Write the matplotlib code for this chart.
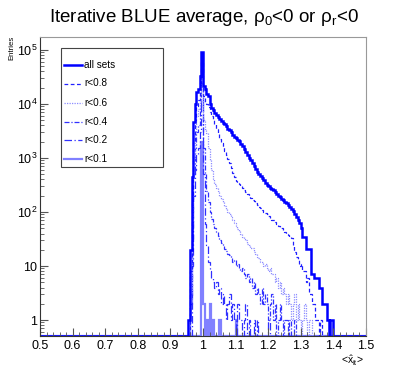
import numpy as np
import matplotlib
matplotlib.use("Agg")
import matplotlib.pyplot as plt
from matplotlib.lines import Line2D
from matplotlib.patches import Rectangle

plt.rcParams['font.family'] = ['Liberation Sans', 'DejaVu Sans']
plt.rcParams['mathtext.fontset'] = 'custom'
plt.rcParams['mathtext.rm'] = 'Liberation Sans'
plt.rcParams['mathtext.it'] = 'Liberation Sans'
plt.rcParams['mathtext.default'] = 'regular'

# histogram binning: 200 bins from 0.5 to 1.5; listed contents start at 0.95
x_min, x_max, n_bins = 0.5, 1.5, 200
data_start = 0.95

all_sets = [0, 1, 20, 450, 4700, 10000, 17000, 19000, 33000, 91000,
            22000, 19000, 15500, 14000, 9800, 8300, 7600, 6900, 6300, 5800,
            5300, 4900, 4500, 4200, 3900, 3500, 3300, 3000, 2700, 2500,
            2350, 2200, 2050, 1850, 1650, 1450, 1300, 1150, 1000, 900,
            800, 700, 620, 540, 500, 470, 420, 390, 350, 320,
            300, 280, 265, 255, 235, 215, 200, 190, 175, 166,
            155, 145, 135, 125, 115, 105, 92, 80, 70, 62,
            50, 35, 35, 21, 21, 21, 7, 7, 6, 6,
            6, 4, 4, 2, 2, 2, 1, 0, 1, 1,
            0, 0]

r08 = [0, 0, 8, 150, 2000, 5000, 9000, 12000, 25000, 60000,
       14000, 11000, 10000, 8900, 7000, 6000, 5000, 4200, 3500, 2800,
       2240, 1900, 1600, 1350, 1120, 950, 800, 650, 525, 450,
       380, 350, 330, 300, 280, 260, 230, 215, 200, 180,
       170, 160, 148, 135, 125, 118, 110, 100, 95, 90,
       85, 78, 72, 70, 66, 60, 56, 52, 50, 46,
       42, 40, 38, 35, 33, 25, 18, 15, 13, 10,
       11, 8, 8, 5, 6, 3, 3, 2, 2, 1,
       1, 0, 1]

r06 = [0, 0, 3, 60, 1000, 3000, 6000, 8000, 15000, 40000,
       5000, 3500, 2900, 1500, 900, 600, 400, 330, 280, 240,
       200, 175, 150, 130, 115, 100, 90, 80, 72, 62,
       55, 48, 44, 40, 35, 32, 30, 26, 24, 22,
       22, 18, 17, 15, 14, 12, 12, 10, 11, 9,
       8, 9, 7, 7, 5, 6, 4, 5, 3, 4,
       3, 2, 3, 2, 1, 2, 3, 1, 2, 1,
       0, 1, 2, 1, 0, 1, 1]

r04 = [0, 0, 2, 30, 500, 1500, 3000, 4000, 8000, 25000,
       1500, 500, 250, 150, 100, 75, 60, 50, 42, 36,
       30, 27, 24, 21, 19, 17, 16, 14, 12, 13,
       10, 11, 9, 8, 9, 7, 6, 7, 5, 6,
       4, 5, 3, 4, 3, 2, 4, 2, 3, 2,
       1, 2, 3, 1, 2, 0, 1, 2, 1, 0,
       1, 1, 0, 1, 0, 0, 1]

r02 = [0, 0, 0, 10, 200, 600, 1200, 1500, 3000, 12000,
       500, 60, 25, 12, 8, 6, 5, 4, 5, 3,
       4, 2, 3, 2, 1, 2, 3, 1, 2, 1,
       0, 2, 1, 1, 0, 1, 2, 0, 1, 0,
       0, 1, 0, 1, 0, 0, 0, 0, 0, 0,
       1]

r01 = [0, 0, 0, 0, 0, 0, 0, 0, 0, 2000,
       2, 0, 1, 0, 2, 0, 1, 0, 0, 0,
       1, 0, 0, 0, 0, 0, 0, 0, 0, 0,
       1]

labels = ['all sets', 'r<0.8', 'r<0.6', 'r<0.4', 'r<0.2', 'r<0.1']
x_ticks = [0.5, 0.6, 0.7, 0.8, 0.9, 1.0, 1.1, 1.2, 1.3, 1.4, 1.5]
x_tick_labels = ['0.5', '0.6', '0.7', '0.8', '0.9', '1', '1.1', '1.2', '1.3', '1.4', '1.5']
y_ticks = [1, 10, 100, 1000, 10000, 100000]
y_tick_labels = ['1', '10', r'$10^{2}$', r'$10^{3}$', r'$10^{4}$', r'$10^{5}$']

W, H = 407, 374
fig = plt.figure(figsize=(W / 100, H / 100), dpi=100)
L, R, T, B = 40, 366, 37, 336
ax = fig.add_axes([L / W, 1 - B / H, (R - L) / W, (B - T) / H])
y_lo, y_hi = 0.506, 1.74e5

edges = np.linspace(x_min, x_max, n_bins + 1)
i0 = int(round((data_start - x_min) / (x_max - x_min) * n_bins))

def full(vals):
    arr = np.zeros(n_bins)
    arr[i0:i0 + len(vals)] = vals
    return arr

styles = [
    dict(color='#0000ff', lw=1.8, ls='-'),
    dict(color='#2020ff', lw=0.9, ls=(0, (3, 2))),
    dict(color='#8c8cff', lw=0.9, ls=(0, (1, 1))),
    dict(color='#3030ff', lw=0.9, ls=(0, (4, 1.5, 1, 1.5))),
    dict(color='#3030ff', lw=0.9, ls=(0, (6, 2, 1, 2))),
    dict(color='#8080ff', lw=1.6, ls='-'),
]
series = [all_sets, r08, r06, r04, r02, r01]
for k in [5, 4, 3, 2, 1, 0]:
    vals = full(series[k])
    plot_vals = np.where(vals > 0, vals, y_lo)
    ax.stairs(plot_vals, edges, baseline=None, **styles[k])

ax.set_yscale('log')
ax.set_xlim(x_min, x_max)
ax.set_ylim(y_lo, y_hi)

ax.set_xticks(x_ticks)
ax.set_xticklabels(x_tick_labels)
ax.set_xticks(np.arange(0.5, 1.5001, 0.02), minor=True)
ax.set_yticks(y_ticks)
ax.set_yticklabels(y_tick_labels)
ax.tick_params(axis='both', which='major', direction='in', length=6, width=0.8,
               labelsize=9, color='#555555', top=False, right=False)
ax.tick_params(axis='both', which='minor', direction='in', length=3, width=0.6,
               color='#555555', top=False, right=False)
ax.tick_params(axis='x', pad=3)
ax.tick_params(axis='y', pad=2)

for s in ['top', 'right']:
    ax.spines[s].set_color('#999999')
for s in ['left', 'bottom']:
    ax.spines[s].set_color('#333333')
for s in ax.spines.values():
    s.set_linewidth(0.8)

fig.text(0.5, 1 - 18 / H, r'Iterative BLUE average, $\rho_{0}$<0 or $\rho_{r}$<0',
         ha='center', va='center', fontsize=13.5)
fig.text(12 / W, 1 - 36 / H, 'Entries', rotation=90, ha='center', va='top', fontsize=5.6)
fig.text(364 / W, 1 - 353 / H, r'<$\hat{x}_{it}$>', ha='right', va='top', fontsize=7.5)

# legend box
lx0, lx1, ly0, ly1 = 61, 163, 48, 167
fig.add_artist(Rectangle((lx0 / W, 1 - ly1 / H), (lx1 - lx0) / W, (ly1 - ly0) / H,
                         transform=fig.transFigure, fill=True, facecolor='white',
                         edgecolor='#444444', lw=0.8))
ys = [65, 83.5, 102.5, 121.5, 140, 158.5]
for k in range(6):
    y = 1 - ys[k] / H
    fig.add_artist(Line2D([64 / W, 82 / W], [y, y], transform=fig.transFigure,
                          **styles[k]))
    fig.text(84 / W, y, labels[k], ha='left', va='center', fontsize=7.2)

fig.savefig('out.png', dpi=100)
